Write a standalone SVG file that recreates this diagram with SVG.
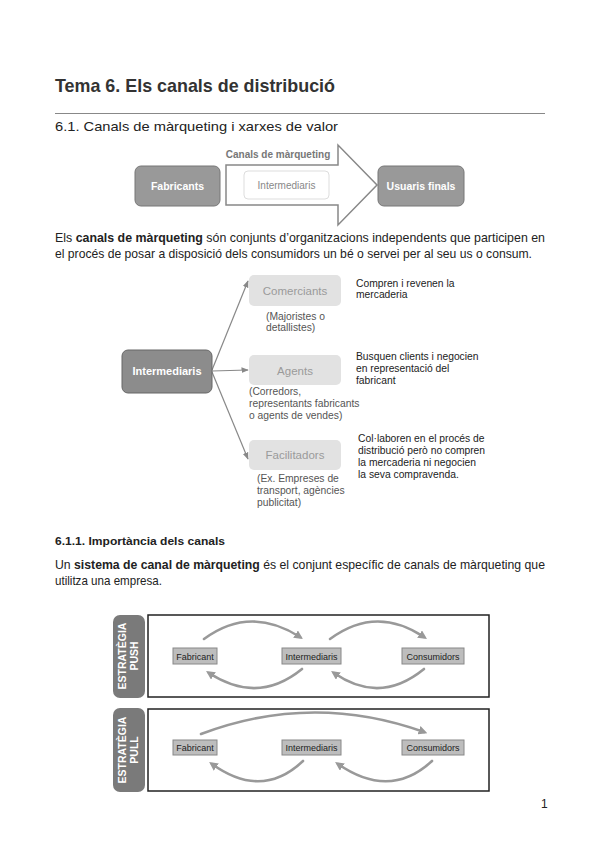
<svg xmlns="http://www.w3.org/2000/svg" width="599" height="848" viewBox="0 0 599 848">
<style>
text{font-family:"Liberation Sans",Arial,sans-serif}
.title{font-size:18.5px;font-weight:bold;fill:#333}
.h2{font-size:13.5px;fill:#222}
.body{font-size:12.2px;fill:#222}
.b{font-weight:bold}
.h3{font-size:11.5px;font-weight:bold;fill:#222}
.dk{fill:#999;stroke:#777;stroke-width:1}
.wt{font-size:10.5px;font-weight:bold;fill:#fff;text-anchor:middle}
.lt{fill:#e2e2e2}
.lttx{font-size:11.5px;fill:#9a9a9a;text-anchor:middle}
.par{font-size:10.3px;fill:#555}
.desc{font-size:10.3px;fill:#222}
.conn{stroke:#888;stroke-width:1.2;fill:none}
.sm{fill:#bdbdbd;stroke:#888;stroke-width:1}
.smt{font-size:9px;fill:#222;text-anchor:middle}
.frame{fill:#fff;stroke:#222;stroke-width:1.5}
.side{fill:#7a7a7a}
.sidet{font-size:10.5px;font-weight:bold;fill:#fff;text-anchor:middle}
.arc{stroke:#999;stroke-width:2.6;fill:none;stroke-linecap:round}
</style>
<defs>
<marker id="ah" viewBox="0 0 10 10" refX="9" refY="5" markerWidth="6" markerHeight="6" orient="auto">
<path d="M0,1 L10,5 L0,9 z" fill="#888"/>
</marker>
<marker id="ah2" viewBox="0 0 10 10" refX="6" refY="5" markerWidth="3.4" markerHeight="3.4" orient="auto">
<path d="M0,0 L10,5 L0,10 z" fill="#999"/>
</marker>
</defs>
<rect width="599" height="848" fill="#fff"/>

<text class="title" x="55" y="92" textLength="280" lengthAdjust="spacingAndGlyphs">Tema 6. Els canals de distribució</text>
<line x1="55" y1="113.5" x2="545" y2="113.5" stroke="#888" stroke-width="1"/>
<text class="h2" x="55" y="131" textLength="283" lengthAdjust="spacingAndGlyphs">6.1. Canals de màrqueting i xarxes de valor</text>

<g id="fig1">
<g id="fabricants"><rect class="dk" x="135" y="166" width="85" height="40" rx="6"/><text class="wt" x="177.5" y="190">Fabricants</text></g>
<g id="canal-arrow"><polygon points="226,165 338,165 338,145 377,185 338,225 338,205 226,205" fill="#fff" stroke="#888" stroke-width="1.5"/>
<text x="278" y="158" font-size="10" font-weight="bold" fill="#777" text-anchor="middle">Canals de màrqueting</text></g>
<g id="intermediaris1"><rect x="244" y="171" width="85" height="28" rx="4" fill="#fff" stroke="#ddd"/><text x="286.5" y="189" font-size="10" fill="#888" text-anchor="middle">Intermediaris</text></g>
<g id="usuaris"><rect class="dk" x="378" y="166" width="86" height="40" rx="6"/><text class="wt" x="421" y="190">Usuaris finals</text></g>
</g>

<text class="body" x="55" y="242" textLength="490" lengthAdjust="spacingAndGlyphs">Els <tspan class="b">canals de màrqueting</tspan> són conjunts d’organitzacions independents que participen en</text>
<text class="body" x="55" y="258" textLength="477" lengthAdjust="spacingAndGlyphs">el procés de posar a disposició dels consumidors un bé o servei per al seu us o consum.</text>

<g id="fig2">
<g id="connectors">
<line class="conn" x1="212" y1="370" x2="248" y2="281" marker-end="url(#ah)"/>
<line class="conn" x1="212" y1="371" x2="248" y2="370" marker-end="url(#ah)"/>
<line class="conn" x1="212" y1="372" x2="248" y2="459" marker-end="url(#ah)"/>
</g>
<g id="intermediaris2"><rect x="122" y="350" width="90" height="43" rx="6" fill="#8c8c8c" stroke="#666"/><text x="167" y="375" font-size="11" font-weight="bold" fill="#fff" text-anchor="middle">Intermediaris</text></g>
<g id="comerciants"><rect class="lt" x="249" y="275" width="92" height="31" rx="5"/><text class="lttx" x="295" y="295">Comerciants</text>
<text class="par" x="266" y="320">(Majoristes o</text><text class="par" x="266" y="331">detallistes)</text>
<text class="desc" x="356" y="287">Compren i revenen la</text><text class="desc" x="356" y="298">mercaderia</text></g>
<g id="agents"><rect class="lt" x="249" y="355" width="92" height="30" rx="5"/><text class="lttx" x="295" y="375">Agents</text>
<text class="par" x="249" y="395">(Corredors,</text><text class="par" x="249" y="407">representants fabricants</text><text class="par" x="249" y="419">o agents de vendes)</text>
<text class="desc" x="356" y="360">Busquen clients i negocien</text><text class="desc" x="356" y="372">en representació del</text><text class="desc" x="356" y="384">fabricant</text></g>
<g id="facilitadors"><rect class="lt" x="249" y="440" width="92" height="30" rx="5"/><text class="lttx" x="295" y="459">Facilitadors</text>
<text class="par" x="257" y="482">(Ex. Empreses de</text><text class="par" x="257" y="494">transport, agències</text><text class="par" x="257" y="506">publicitat)</text>
<text class="desc" x="358" y="442">Col·laboren en el procés de</text><text class="desc" x="358" y="454">distribució però no compren</text><text class="desc" x="358" y="466">la mercaderia ni negocien</text><text class="desc" x="358" y="478">la seva compravenda.</text></g>
</g>

<text class="h3" x="55" y="545" textLength="170" lengthAdjust="spacingAndGlyphs">6.1.1. Importància dels canals</text>
<text class="body" x="55" y="569" textLength="490" lengthAdjust="spacingAndGlyphs">Un <tspan class="b">sistema de canal de màrqueting</tspan> és el conjunt específic de canals de màrqueting que</text>
<text class="body" x="55" y="585" textLength="107" lengthAdjust="spacingAndGlyphs">utilitza una empresa.</text>

<g id="push">
<rect class="side" x="113" y="615" width="32" height="83" rx="7"/>
<text class="sidet" transform="translate(126,656) rotate(-90)">ESTRATÈGIA</text>
<text class="sidet" transform="translate(138,656) rotate(-90)">PUSH</text>
<rect class="frame" x="148" y="615" width="341" height="82"/>
<g id="push-connectors">
<path class="arc" d="M204,639 Q250,605 300,637" marker-end="url(#ah2)"/>
<path class="arc" d="M330,639 Q376,605 424,637" marker-end="url(#ah2)"/>
<path class="arc" d="M302,669 Q258,705 209,673" marker-end="url(#ah2)"/>
<path class="arc" d="M424,669 Q380,705 334,673" marker-end="url(#ah2)"/>
</g>
<g id="push-fabricant"><rect class="sm" x="173" y="648" width="44" height="16"/><text class="smt" x="195" y="659.5">Fabricant</text></g>
<g id="push-intermediaris"><rect class="sm" x="282" y="648" width="59" height="16"/><text class="smt" x="311.5" y="659.5">Intermediaris</text></g>
<g id="push-consumidors"><rect class="sm" x="402" y="648" width="62" height="16"/><text class="smt" x="433" y="659.5">Consumidors</text></g>
</g>

<g id="pull">
<rect class="side" x="113" y="708" width="32" height="84" rx="7"/>
<text class="sidet" transform="translate(126,750) rotate(-90)">ESTRATÈGIA</text>
<text class="sidet" transform="translate(138,750) rotate(-90)">PULL</text>
<rect class="frame" x="148" y="709" width="341" height="82"/>
<g id="pull-connectors">
<path class="arc" d="M201,734 Q312,692 424,732" marker-end="url(#ah2)"/>
<path class="arc" d="M303,761 Q262,800 212,764" marker-end="url(#ah2)"/>
<path class="arc" d="M432,761 Q390,800 338,764" marker-end="url(#ah2)"/>
</g>
<g id="pull-fabricant"><rect class="sm" x="173" y="740" width="44" height="15"/><text class="smt" x="195" y="751">Fabricant</text></g>
<g id="pull-intermediaris"><rect class="sm" x="282" y="740" width="59" height="15"/><text class="smt" x="311.5" y="751">Intermediaris</text></g>
<g id="pull-consumidors"><rect class="sm" x="402" y="740" width="62" height="15"/><text class="smt" x="433" y="751">Consumidors</text></g>
</g>

<text x="541" y="808" font-size="12" fill="#222">1</text>
</svg>
